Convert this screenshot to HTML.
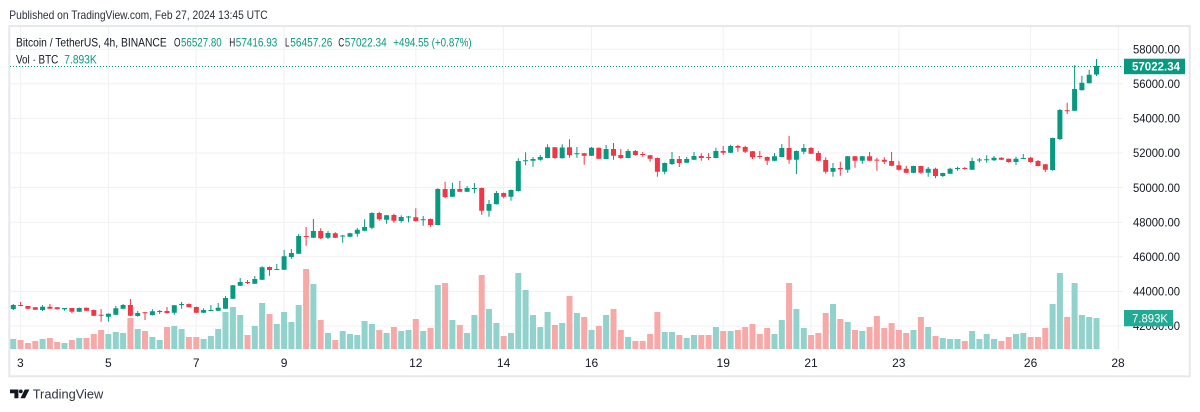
<!DOCTYPE html>
<html><head><meta charset="utf-8"><style>
html,body{margin:0;padding:0;background:#fff;}
svg{display:block;}
text{font-family:"Liberation Sans",Arial,sans-serif;}
</style></head><body>
<svg width="1200" height="412" viewBox="0 0 1200 412" xmlns="http://www.w3.org/2000/svg">
<rect width="1200" height="412" fill="#fff"/>
<text x="9.3" y="19" font-size="12" fill="#2a2e39" textLength="258.4" lengthAdjust="spacingAndGlyphs">Published on TradingView.com, Feb 27, 2024 13:45 UTC</text>
<rect x="9.3" y="26" width="1180.4" height="350.3" fill="none" stroke="#e6e8ee" stroke-width="2"/>
<!-- grid -->
<g stroke="#f0f1f4" stroke-width="1" fill="none">
<path d="M10 49.2H1123M10 83.8H1123M10 118.4H1123M10 153H1123M10 187.6H1123M10 222.2H1123M10 256.8H1123M10 291.4H1123M10 326H1123"/>
<path d="M20.6 27V349M108.4 27V349M196.2 27V349M284.1 27V349M415.8 27V349M503.6 27V349M591.5 27V349M723.2 27V349M811 27V349M898.8 27V349M1030.6 27V349M1118.4 27V349"/>
</g>
<!-- volume -->
<path fill="none" stroke="#92d2cc" stroke-width="6" d="M13.3 339V349M42.6 339V349M64.5 343V349M79.2 338V349M108.4 334V349M115.8 332V349M123.1 333V349M137.7 329V349M152.4 337V349M159.7 340V349M174.3 326V349M181.6 329V349M203.6 339V349M210.9 336V349M218.2 329V349M225.5 312V349M232.9 307V349M240.2 315V349M254.8 326V349M262.1 303V349M276.8 324V349M284.1 312V349M291.4 322V349M298.7 305V349M313.4 284V349M328 333V349M342.7 331V349M350 334V349M357.3 335V349M364.6 321V349M371.9 324V349M386.6 333V349M401.2 331V349M408.5 330V349M423.2 331V349M437.8 285V349M452.4 320V349M467.1 333V349M474.4 315V349M489 309V349M496.4 323V349M511 333V349M518.3 273V349M525.6 290V349M533 315V349M540.3 327V349M547.6 312V349M562.2 323V349M576.9 313V349M591.5 330V349M606.1 315V349M628.1 337V349M664.7 332V349M672 332V349M686.7 338V349M694 335V349M715.9 327V349M730.6 331V349M774.5 334V349M781.8 320V349M796.4 309V349M803.8 328V349M833 304V349M847.7 322V349M862.3 331V349M913.5 330V349M928.2 327V349M942.8 338V349M950.1 339V349M957.5 339V349M972.1 331V349M979.4 339V349M986.7 334V349M994 339V349M1016 334V349M1023.3 333V349M1052.6 304V349M1059.9 273V349M1074.6 283V349M1081.9 315V349M1089.2 317V349M1096.5 318V349"/>
<path fill="none" stroke="#f7a9a7" stroke-width="6" d="M20.6 340V349M27.9 343V349M35.3 341V349M49.9 338V349M57.2 342V349M71.9 340V349M86.5 338V349M93.8 334V349M101.1 330V349M130.4 318V349M145 331V349M167 327V349M188.9 337V349M196.3 337V349M247.5 335V349M269.5 314V349M306.1 269V349M320.7 320V349M335.3 340V349M379.3 330V349M393.9 327V349M415.8 319V349M430.5 328V349M445.1 283V349M459.8 325V349M481.7 275V349M503.7 336V349M554.9 325V349M569.5 296V349M584.2 317V349M598.8 326V349M613.5 309V349M620.8 330V349M635.4 341V349M642.7 341V349M650.1 334V349M657.4 312V349M679.3 335V349M701.3 335V349M708.6 335V349M723.2 331V349M737.9 330V349M745.2 327V349M752.5 324V349M759.8 334V349M767.2 328V349M789.1 283V349M811.1 335V349M818.4 333V349M825.7 313V349M840.3 319V349M855 330V349M869.6 327V349M876.9 316V349M884.3 328V349M891.6 323V349M898.9 330V349M906.2 333V349M920.9 317V349M935.5 336V349M964.8 341V349M1001.4 341V349M1008.7 337V349M1030.6 337V349M1038 337V349M1045.3 328V349M1067.2 317V349"/>
<!-- green candles -->
<path fill="none" stroke="#089981" stroke-width="1" d="M13.3 304V310M42.6 305V311M64.5 308V310.7M79.2 307.5V312M108.4 313.3V321.7M115.8 306V315M123.1 304V309M137.7 311V316.7M152.4 309.3V315.5M159.7 310V314M174.3 305V314.7M181.6 302V308.7M203.6 308.3V313M210.9 305V311.3M218.2 303V311M225.5 296V309M232.9 285V299M240.2 278V286M254.8 276V284M262.1 266.3V280M276.8 264V270M284.1 250V270M291.4 249V258.7M298.7 234V254M313.4 219V238M328 231V239M342.7 235V242.7M350 232.7V237.3M357.3 228V236.7M364.6 219.3V231.3M371.9 212.3V229.3M386.6 215V223.7M401.2 215.3V222.7M408.5 216V222.3M423.2 216V225.7M437.8 188.3V225.3M452.4 182.7V197M467.1 186V192M474.4 183V193.3M489 200V216.7M496.4 191V204.5M511 189.5V200.7M518.3 158.3V191.5M525.6 152.3V165.3M533 157V166.7M540.3 155V160.7M547.6 144.3V158.3M562.2 144.2V158.5M576.9 147V157.7M591.5 147V156M606.1 145V159.3M628.1 149V158.3M664.7 162.5V174.3M672 152V165M686.7 157V163M694 152V160M715.9 147.7V158.3M730.6 144.7V153M774.5 153V161M781.8 144V157.3M796.4 150.5V174M803.8 144V154.3M833 163V176.7M847.7 156V172.7M862.3 156V163.7M913.5 165.7V173M928.2 167V176.7M942.8 172.7V177M950.1 167.7V174M957.5 166.7V170.7M972.1 157.7V170M979.4 158V162.3M986.7 155.3V162.7M994 156V161M1016 156.7V165M1023.3 154V159M1052.6 137.7V170.7M1059.9 109V140M1074.6 65.3V111M1081.9 75.7V90.5M1089.2 69.7V83.5M1096.5 59V76"/>
<path fill="none" stroke="#089981" stroke-width="5" d="M13.3 305V309M42.6 306.7V310M64.5 308V309.3M79.2 308V311.7M108.4 313.7V316.7M115.8 308.3V314.7M123.1 305V308.7M137.7 313V316M152.4 311.3V315M159.7 311V312M174.3 305.3V312.7M181.6 304V305M203.6 310V312.7M210.9 310V311M218.2 307.7V310.7M225.5 298V308.7M232.9 285.3V298.7M240.2 282V285.7M254.8 279V283.7M262.1 267.3V279.7M276.8 269V270M284.1 256.3V269.7M291.4 253V257M298.7 236V253.7M313.4 231V237.7M328 233V237.7M342.7 235.5V236.5M350 233.3V236.7M357.3 229.7V233.7M364.6 227V230.7M371.9 213V227.7M386.6 215.3V219.7M401.2 217V221M408.5 216.5V217.5M423.2 219.3V220.3M437.8 189V225M452.4 189V196.7M467.1 188V191.7M474.4 188V189M489 204V210.7M496.4 193V204.3M511 190V196.7M518.3 161V191M525.6 160.3V161.3M533 159V160.7M540.3 157V159.7M547.6 147.3V158M562.2 147.5V158.2M576.9 153.3V154.3M591.5 147.7V155.7M606.1 149V159M628.1 151V158M664.7 163V171.7M672 159V164M686.7 159V162.7M694 156V159.7M715.9 151V158M730.6 146V152.7M774.5 156.3V160.7M781.8 148V157M796.4 151V159.7M803.8 148V151.7M833 168V171.7M847.7 156.3V169.7M862.3 156.3V160.7M913.5 166V172.7M928.2 168.7V172.7M942.8 173V176M950.1 168.7V173.7M957.5 168V169M972.1 161V169.7M979.4 159.5V160.5M986.7 159.2V160.2M994 157.7V160.3M1016 158.7V162M1023.3 158V159M1052.6 138V170M1059.9 110V139M1074.6 89V110.7M1081.9 82.7V90.3M1089.2 74.7V83.3M1096.5 66V74.5"/>
<!-- red candles -->
<path fill="none" stroke="#f23645" stroke-width="1" d="M20.6 302V306M27.9 306V309M35.3 307V310M49.9 304V309M57.2 307V309.5M71.9 308V313.3M86.5 307.5V311M93.8 309.5V316M101.1 309V321.7M130.4 299V316M145 312V320M167 307V313.5M188.9 303.5V307.5M196.3 306.5V313M247.5 280V284M269.5 266.5V275.7M306.1 227V245.7M320.7 228.3V239M335.3 232.3V238M379.3 211.7V220.7M393.9 213.7V222.7M415.8 208.3V221.7M430.5 218.5V226.7M445.1 181.7V198.3M459.8 181V192M481.7 187.5V214.7M503.7 192.5V198.3M554.9 147V158.7M569.5 139.2V157.7M584.2 153V164.7M598.8 147.5V159M613.5 143V159.7M620.8 149V159M635.4 150V155.7M642.7 151.7V156.7M650.1 155V161.7M657.4 157.5V176.7M679.3 156V167M701.3 153.3V160.7M708.6 153V160.3M723.2 146V155M737.9 144.7V151.7M745.2 145.7V153M752.5 151V159M759.8 151V158.7M767.2 156.5V165M789.1 136V163.7M811.1 147V154M818.4 151V161M825.7 157.3V173.7M840.3 161.7V175.7M855 156V167.7M869.6 152V161M876.9 157.7V170.7M884.3 157.3V164M891.6 152V166.3M898.9 161V170.7M906.2 165.7V173M920.9 165.7V173.7M935.5 167.7V178.3M964.8 167V169.7M1001.4 157.3V160M1008.7 158.5V162.7M1030.6 156.7V162.7M1038 160V166.3M1045.3 164V172M1067.2 102.7V114"/>
<path fill="none" stroke="#f23645" stroke-width="5" d="M20.6 305V306M27.9 306V308.7M35.3 307.3V309.7M49.9 306.7V308.7M57.2 307.3V309.3M71.9 308V311.7M86.5 307.7V310.7M93.8 310V315.7M101.1 314.7V315.7M130.4 305V315.7M145 312.3V313.3M167 311V313M188.9 304V307.3M196.3 307V312.7M247.5 282V283M269.5 267V270M306.1 236V237M320.7 231V238.3M335.3 233.3V237.7M379.3 213V219.3M393.9 215V220.7M415.8 217.3V221M430.5 219V225M445.1 189V197M459.8 189V191.7M481.7 188V210.7M503.7 193V196.7M554.9 147.3V158M569.5 147.2V155M584.2 153.3V155.7M598.8 147.7V158.7M613.5 149V155.7M620.8 155V158M635.4 151V155M642.7 154V155M650.1 155.3V158.7M657.4 158V171.7M679.3 159V163M701.3 156V158M708.6 157V158M723.2 151V152.7M737.9 146V147.7M745.2 147V151.7M752.5 151.3V157.3M759.8 156V157M767.2 157V160.7M789.1 148V159.7M811.1 148V153.7M818.4 153V160.7M825.7 160V171.7M840.3 168V169.3M855 156.3V160.7M869.6 156.3V160.7M876.9 159.6V160.6M884.3 159.7V161.7M891.6 161V165.7M898.9 165.3V169.7M906.2 168.7V172.7M920.9 166V172.7M935.5 168.7V176M964.8 168V169M1001.4 157.7V159.7M1008.7 158.7V162M1030.6 157.7V162M1038 161V166M1045.3 164.3V169.7M1067.2 110.3V111.3"/>
<!-- last price dotted line -->
<path d="M10 66.5H1123" stroke="#089981" stroke-width="1" stroke-dasharray="1 2" fill="none"/>
<!-- legend -->
<text x="16" y="46.5" font-size="12" fill="#131722" textLength="150.7" lengthAdjust="spacingAndGlyphs">Bitcoin / TetherUS, 4h, BINANCE</text>
<text x="174" y="46.5" font-size="12" fill="#131722" textLength="6.5" lengthAdjust="spacingAndGlyphs">O</text>
<text x="181" y="46.5" font-size="12" fill="#089981" textLength="40.7" lengthAdjust="spacingAndGlyphs">56527.80</text>
<text x="229.3" y="46.5" font-size="12" fill="#131722" textLength="6" lengthAdjust="spacingAndGlyphs">H</text>
<text x="235.8" y="46.5" font-size="12" fill="#089981" textLength="41.5" lengthAdjust="spacingAndGlyphs">57416.93</text>
<text x="285" y="46.5" font-size="12" fill="#131722" textLength="4.5" lengthAdjust="spacingAndGlyphs">L</text>
<text x="290.3" y="46.5" font-size="12" fill="#089981" textLength="42" lengthAdjust="spacingAndGlyphs">56457.26</text>
<text x="338.3" y="46.5" font-size="12" fill="#131722" textLength="6" lengthAdjust="spacingAndGlyphs">C</text>
<text x="344.8" y="46.5" font-size="12" fill="#089981" textLength="41.9" lengthAdjust="spacingAndGlyphs">57022.34</text>
<text x="393.3" y="46.5" font-size="12" fill="#089981" textLength="78.4" lengthAdjust="spacingAndGlyphs">+494.55 (+0.87%)</text>
<text x="16" y="63.3" font-size="12" fill="#131722" textLength="42.3" lengthAdjust="spacingAndGlyphs">Vol · BTC</text>
<text x="64.3" y="63.3" font-size="12" fill="#089981" textLength="32.4" lengthAdjust="spacingAndGlyphs">7.893K</text>
<!-- price axis -->
<g font-size="12" fill="#131722">
<text x="1133" y="53.4" textLength="47" lengthAdjust="spacingAndGlyphs">58000.00</text>
<text x="1133" y="88" textLength="47" lengthAdjust="spacingAndGlyphs">56000.00</text>
<text x="1133" y="122.6" textLength="47" lengthAdjust="spacingAndGlyphs">54000.00</text>
<text x="1133" y="157.2" textLength="47" lengthAdjust="spacingAndGlyphs">52000.00</text>
<text x="1133" y="191.8" textLength="47" lengthAdjust="spacingAndGlyphs">50000.00</text>
<text x="1133" y="226.4" textLength="47" lengthAdjust="spacingAndGlyphs">48000.00</text>
<text x="1133" y="261" textLength="47" lengthAdjust="spacingAndGlyphs">46000.00</text>
<text x="1133" y="295.6" textLength="47" lengthAdjust="spacingAndGlyphs">44000.00</text>
<text x="1133" y="330.2" textLength="47" lengthAdjust="spacingAndGlyphs">42000.00</text>
</g>
<rect x="1124" y="58.7" width="61" height="15.5" fill="#089981"/>
<text x="1132" y="70.7" font-size="12" font-weight="bold" fill="#fff" textLength="48" lengthAdjust="spacingAndGlyphs">57022.34</text>
<rect x="1124" y="310" width="49" height="16.3" fill="#22ab94"/>
<text x="1132" y="322.3" font-size="12" fill="#fff" textLength="36" lengthAdjust="spacingAndGlyphs">7.893K</text>
<!-- time axis -->
<g font-size="12" fill="#131722" text-anchor="middle">
<text x="20.4" y="367">3</text>
<text x="108.4" y="367">5</text>
<text x="196.2" y="367">7</text>
<text x="284.1" y="367">9</text>
<text x="415.8" y="367">12</text>
<text x="503.6" y="367">14</text>
<text x="591.5" y="367">16</text>
<text x="723.2" y="367">19</text>
<text x="811" y="367">21</text>
<text x="898.8" y="367">23</text>
<text x="1030.6" y="367">26</text>
<text x="1118" y="367">28</text>
</g>
<!-- footer logo -->
<g fill="#131722">
<polygon points="10,389.5 18.4,389.5 18.4,398.3 14.4,398.3 14.4,393.3 10,393.3"/>
<circle cx="20.8" cy="391.4" r="1.9"/>
<polygon points="24.8,389.5 29.4,389.5 25,398.3 20.4,398.3"/>
</g>
<text x="32.7" y="398.7" font-size="13" fill="#2e3240" textLength="70.6" lengthAdjust="spacingAndGlyphs">TradingView</text>
</svg>
</body></html>
